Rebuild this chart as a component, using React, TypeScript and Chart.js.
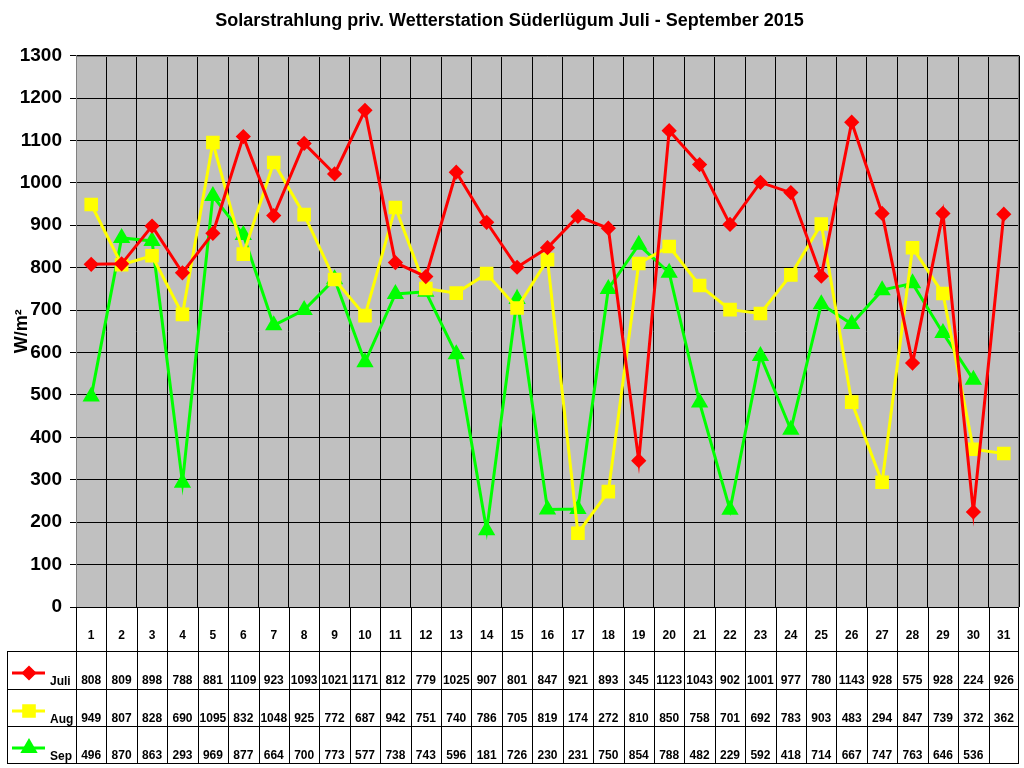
import React, { useEffect, useRef } from 'react';
import { Chart, registerables } from 'chart.js';
import { drawPoint } from 'chart.js/helpers';

Chart.register(...registerables);

const FONT = "'Liberation Sans', Arial, sans-serif";

const days = [
  '1', '2', '3', '4', '5', '6', '7', '8', '9', '10', '11', '12', '13', '14', '15', '16',
  '17', '18', '19', '20', '21', '22', '23', '24', '25', '26', '27', '28', '29', '30', '31',
];

const juli = [
  808, 809, 898, 788, 881, 1109, 923, 1093, 1021, 1171, 812, 779, 1025, 907, 801, 847,
  921, 893, 345, 1123, 1043, 902, 1001, 977, 780, 1143, 928, 575, 928, 224, 926,
];

const aug = [
  949, 807, 828, 690, 1095, 832, 1048, 925, 772, 687, 942, 751, 740, 786, 705, 819,
  174, 272, 810, 850, 758, 701, 692, 783, 903, 483, 294, 847, 739, 372, 362,
];

const sep = [
  496, 870, 863, 293, 969, 877, 664, 700, 773, 577, 738, 743, 596, 181, 726, 230,
  231, 750, 854, 788, 482, 229, 592, 418, 714, 667, 747, 763, 646, 536, null,
];

const yTicks = { min: 0, max: 1300, step: 100 };

const series = [
  { label: 'Juli', data: juli, color: '#FF0000', style: 'rectRot', radius: 5.5 },
  { label: 'Aug', data: aug, color: '#FFFF00', style: 'rect', radius: 7.5 },
  { label: 'Sep', data: sep, color: '#00FF00', style: 'triangle', radius: 7 },
];

// grey plot area behind the grid
const plotBackground = {
  id: 'plotBackground',
  beforeDraw(chart: Chart) {
    const { ctx, chartArea } = chart;
    ctx.save();
    ctx.fillStyle = '#C0C0C0';
    ctx.fillRect(chartArea.left, chartArea.top, chartArea.right - chartArea.left, chartArea.bottom - chartArea.top);
    ctx.restore();
  },
  beforeDatasetsDraw(chart: Chart) {
    const { ctx, chartArea } = chart;
    const l = Math.round(chartArea.left) + 0.5;
    const t = Math.round(chartArea.top) + 0.5;
    const r = Math.round(chartArea.right) - 0.5;
    const b = Math.round(chartArea.bottom);
    ctx.save();
    ctx.strokeStyle = '#808080';
    ctx.lineWidth = 1;
    ctx.beginPath();
    ctx.moveTo(l, b);
    ctx.lineTo(l, t);
    ctx.lineTo(r, t);
    ctx.lineTo(r, b);
    ctx.stroke();
    ctx.restore();
  },
};

// data table under the plot, columns taken from the x scale
const dataTable = {
  id: 'dataTable',
  afterDraw(chart: Chart) {
    const { ctx, chartArea } = chart;
    const xs = chart.scales.x;
    const colW = (chartArea.right - chartArea.left) / days.length;
    const top = Math.round(chartArea.bottom);
    const rows = [top, top + 44, top + 82, top + 119, top + 156];
    const tableLeft = 7;
    const right = Math.round(chartArea.right);

    ctx.save();
    ctx.strokeStyle = '#000000';
    ctx.lineWidth = 1;
    ctx.beginPath();
    for (let r = 1; r < rows.length; r++) {
      ctx.moveTo(tableLeft, rows[r] + 0.5);
      ctx.lineTo(right, rows[r] + 0.5);
    }
    for (let i = 0; i < days.length; i++) {
      const bx = Math.round(chartArea.left + i * colW) + 0.5;
      ctx.moveTo(bx, top);
      ctx.lineTo(bx, rows[4] + 1);
    }
    ctx.moveTo(right - 0.5, top);
    ctx.lineTo(right - 0.5, rows[4] + 1);
    ctx.moveTo(tableLeft + 0.5, rows[1]);
    ctx.lineTo(tableLeft + 0.5, rows[4] + 1);
    ctx.stroke();

    ctx.fillStyle = '#000000';
    ctx.font = `bold 12px ${FONT}`;
    ctx.textAlign = 'center';
    ctx.textBaseline = 'middle';
    days.forEach((d, i) => {
      ctx.fillText(d, xs.getPixelForValue(i), top + 29);
    });

    series.forEach((s, r) => {
      const rowTop = rows[r + 1];
      ctx.textAlign = 'center';
      s.data.forEach((v, i) => {
        if (v === null) return;
        ctx.fillText(String(v), xs.getPixelForValue(i), rowTop + 30);
      });

      // legend key
      ctx.strokeStyle = s.color;
      ctx.lineWidth = 3;
      ctx.beginPath();
      ctx.moveTo(12, rowTop + 22);
      ctx.lineTo(45, rowTop + 22);
      ctx.stroke();
      ctx.fillStyle = s.color;
      drawPoint(ctx, { pointStyle: s.style, radius: s.radius, rotation: 0, borderWidth: 1 }, 29, rowTop + 22);
      ctx.fillStyle = '#000000';
      ctx.textAlign = 'left';
      ctx.fillText(s.label, 50, rowTop + 31);
    });
    ctx.restore();
  },
};

const SolarChart: React.FC = () => {
  const canvasRef = useRef<HTMLCanvasElement | null>(null);
  const chartInstance = useRef<Chart | null>(null);

  useEffect(() => {
    const ctx = canvasRef.current?.getContext('2d');
    if (!ctx) return;
    if (chartInstance.current) chartInstance.current.destroy();

    chartInstance.current = new Chart(ctx, {
      type: 'line',
      data: {
        labels: days,
        datasets: series.map((s) => ({
          label: s.label,
          data: s.data,
          borderColor: s.color,
          backgroundColor: s.color,
          borderWidth: 3,
          pointStyle: s.style as any,
          pointRadius: s.radius,
          pointBorderColor: s.color,
          pointBackgroundColor: s.color,
          tension: 0,
          spanGaps: false,
        })),
      },
      options: {
        responsive: false,
        animation: false,
        layout: { autoPadding: false, padding: { left: 0, right: 5, top: 0, bottom: 161 } },
        plugins: {
          legend: { display: false },
          tooltip: { enabled: false },
          title: {
            display: true,
            text: 'Solarstrahlung priv. Wetterstation Süderlügum Juli - September 2015',
            color: '#000000',
            font: { family: FONT, size: 18, weight: 'bold' },
            padding: { top: 10, bottom: 24 },
          },
        },
        scales: {
          x: {
            offset: true,
            grid: { offset: true, color: '#000000', drawTicks: false },
            ticks: { display: false },
            border: { display: false },
          },
          y: {
            min: yTicks.min,
            max: yTicks.max,
            afterFit: (scale: any) => {
              scale.width = 76;
            },
            ticks: {
              stepSize: yTicks.step,
              color: '#000000',
              padding: 8,
              font: { family: FONT, size: 19, weight: 'bold' },
              callback: (value: any) => String(value),
            },
            grid: { color: '#000000', tickLength: 6 },
            border: { color: '#808080' },
            title: {
              display: true,
              text: 'W/m²',
              color: '#000000',
              font: { family: FONT, size: 18, weight: 'bold' },
              padding: { top: 11, bottom: 0 },
            },
          },
        },
      },
      plugins: [plotBackground, dataTable],
    });

    return () => {
      if (chartInstance.current) {
        chartInstance.current.destroy();
        chartInstance.current = null;
      }
    };
  }, []);

  return (
    <div style={{ position: 'absolute', left: 0, top: 0, width: 1024, height: 768, background: '#FFFFFF' }}>
      <canvas ref={canvasRef} width={1024} height={768} />
    </div>
  );
};

export default function App() {
  return <SolarChart />;
}
